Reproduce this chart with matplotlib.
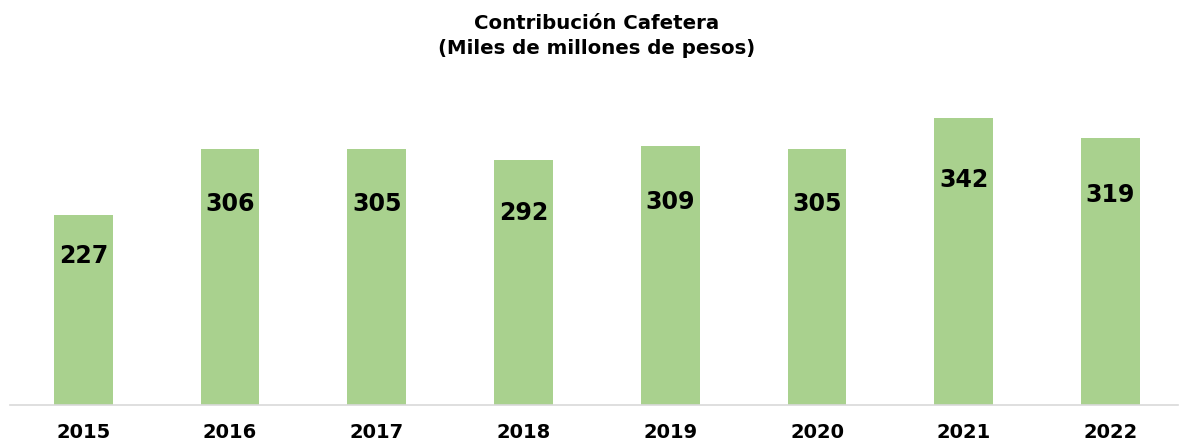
import matplotlib
matplotlib.use("Agg")
import matplotlib.pyplot as plt
import numpy as np

# Contribucion cafetera data
years = ["2015", "2016", "2017", "2018", "2019", "2020", "2021", "2022"]
values = [227, 306, 305, 292, 309, 305, 342, 319]

plt.rcParams['font.family'] = ['DejaVu Sans']

fig = plt.figure(figsize=(11.79, 4.43), dpi=100)
ax = fig.add_axes([10 / 1179, 1 - 405 / 443, 1168 / 1179, 290 / 443])

x = np.arange(len(years))
ax.bar(x, values, width=0.4, color='#A9D18E', zorder=2)

for xi, v in zip(x, values):
    ax.text(xi, v * 0.785, str(v), ha='center', va='center',
            fontsize=17, fontweight='bold', color='black')

ax.set_xlim(-0.5, len(years) - 0.5 - 0.04)
ax.set_ylim(0, 346)
ax.set_xticks(x, years)
ax.tick_params(axis='x', length=0, pad=13, labelsize=14)
for lbl in ax.get_xticklabels():
    lbl.set_fontweight('bold')
ax.set_yticks([])

for side in ['top', 'right', 'left']:
    ax.spines[side].set_visible(False)
ax.spines['bottom'].set_color('#D9D9D9')
ax.spines['bottom'].set_linewidth(1.2)

fig.text(597 / 1179, 1 - 36 / 443, 'Contribución Cafetera\n(Miles de millones de pesos)',
         ha='center', va='center', fontsize=14.2, fontweight='bold', linespacing=1.4)

fig.savefig('out.png', dpi=100)
